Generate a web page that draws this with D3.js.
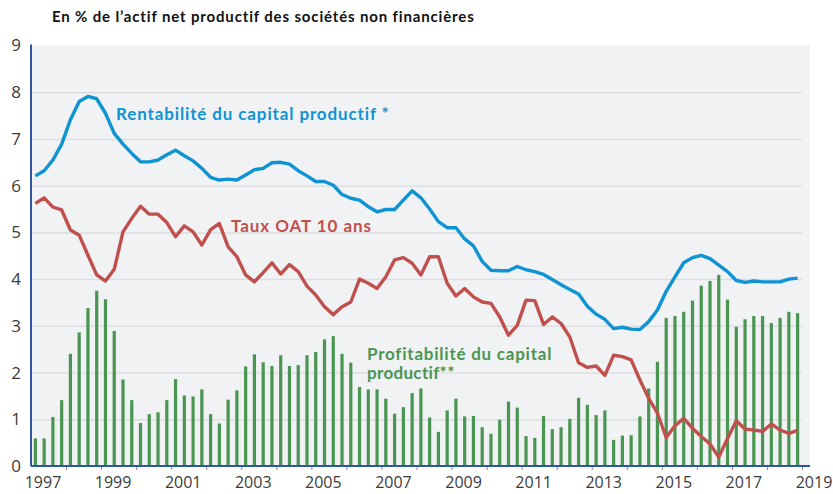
<!DOCTYPE html>
<html>
<head>
<meta charset="utf-8">
<script src="https://cdn.jsdelivr.net/npm/d3@7"></script>
<style>
  body { margin: 0; background: #fff; }
  svg { display: block; font-family: Lato, "Open Sans", sans-serif; }
</style>
</head>
<body>
<svg width="833" height="494"></svg>
<script>
(function () {
  'use strict';

  // ---- data (quarterly, 1997T1 -> 2018T4) ----
  const years = [1997, 1998, 1999, 2000, 2001, 2002, 2003, 2004, 2005, 2006, 2007,
                 2008, 2009, 2010, 2011, 2012, 2013, 2014, 2015, 2016, 2017, 2018];
  const quarters = ["T1", "T2", "T3", "T4"];

  const rentabilite = [
    6.21, 6.32, 6.55, 6.89, 7.41, 7.80, 7.91, 7.86,
    7.55, 7.12, 6.89, 6.69, 6.51, 6.51, 6.55, 6.66,
    6.76, 6.64, 6.53, 6.37, 6.18, 6.12, 6.14, 6.12,
    6.23, 6.34, 6.37, 6.49, 6.50, 6.46, 6.32, 6.21,
    6.09, 6.09, 6.01, 5.81, 5.73, 5.69, 5.55, 5.44,
    5.49, 5.49, 5.69, 5.89, 5.74, 5.50, 5.23, 5.10,
    5.10, 4.86, 4.71, 4.38, 4.19, 4.18, 4.18, 4.27,
    4.20, 4.16, 4.10, 3.99, 3.88, 3.78, 3.68, 3.42,
    3.25, 3.14, 2.94, 2.97, 2.93, 2.92, 3.09, 3.34,
    3.74, 4.05, 4.35, 4.46, 4.51, 4.44, 4.30, 4.16,
    3.97, 3.93, 3.96, 3.94, 3.94, 3.94, 4.00, 4.02
  ];

  const oat10 = [
    5.62, 5.74, 5.54, 5.48, 5.05, 4.94, 4.51, 4.09,
    3.96, 4.21, 5.01, 5.30, 5.56, 5.39, 5.39, 5.21,
    4.91, 5.14, 5.01, 4.73, 5.06, 5.19, 4.69, 4.48,
    4.09, 3.94, 4.14, 4.35, 4.11, 4.31, 4.16, 3.85,
    3.66, 3.41, 3.24, 3.41, 3.51, 4.00, 3.91, 3.80,
    4.05, 4.41, 4.46, 4.34, 4.09, 4.48, 4.48, 3.91,
    3.64, 3.80, 3.62, 3.51, 3.48, 3.19, 2.80, 3.01,
    3.55, 3.54, 3.03, 3.19, 3.05, 2.76, 2.21, 2.11,
    2.14, 1.94, 2.37, 2.34, 2.27, 1.84, 1.45, 1.13,
    0.61, 0.86, 1.02, 0.81, 0.63, 0.47, 0.19, 0.59,
    0.97, 0.79, 0.77, 0.74, 0.90, 0.77, 0.70, 0.76
  ];

  const profitabilite = [
    0.59, 0.59, 1.05, 1.41, 2.40, 2.86, 3.38, 3.75,
    3.57, 2.89, 1.85, 1.41, 0.92, 1.11, 1.15, 1.41,
    1.86, 1.51, 1.49, 1.64, 1.11, 0.91, 1.42, 1.62,
    2.13, 2.39, 2.22, 2.14, 2.37, 2.14, 2.16, 2.37,
    2.44, 2.71, 2.78, 2.40, 2.21, 1.69, 1.64, 1.64,
    1.44, 1.12, 1.26, 1.56, 1.66, 1.04, 0.73, 1.19,
    1.44, 1.06, 1.07, 0.83, 0.69, 0.99, 1.38, 1.25,
    0.64, 0.60, 1.07, 0.79, 0.83, 1.01, 1.46, 1.31,
    1.09, 1.19, 0.56, 0.65, 0.66, 1.06, 1.66, 2.23,
    3.17, 3.21, 3.30, 3.54, 3.86, 3.96, 4.09, 3.56,
    2.98, 3.14, 3.21, 3.21, 3.06, 3.17, 3.30, 3.27
  ];

  const yTicks = [0, 1, 2, 3, 4, 5, 6, 7, 8, 9];
  const xLabelYears = [1997, 1999, 2001, 2003, 2005, 2007, 2009, 2011, 2013, 2015, 2017, 2019];
  const xTickYears = d3.range(1998, 2020);

  const title = "En % de l\u2019actif net productif des sociétés non financières";

  // ---- layout ----
  const svg = d3.select("svg");
  const left = 31, right = 802, top = 45.5, bottom = 466;
  const panelRight = 810;

  const colBlue = "#0f93d2", colRed = "#c0504d", colGreen = "#4b9553";
  const colAxis = "#2e55a8";

  const data = years.flatMap((yr, yi) => quarters.map((q, qi) => {
    const i = yi * 4 + qi;
    return {t: yr + (qi + 0.5) / 4, label: yr + q,
            rent: rentabilite[i], oat: oat10[i], prof: profitabilite[i]};
  }));

  const x = d3.scaleLinear().domain([1997, 2019]).range([left, right]);
  const y = d3.scaleLinear().domain([0, 9]).range([bottom, top]);

  // panel background
  svg.append("rect")
    .attr("x", left).attr("y", top)
    .attr("width", panelRight - left).attr("height", bottom - top)
    .attr("fill", "#f0f2f4");

  // horizontal gridlines + y labels
  const yAxis = d3.axisLeft(y).tickValues(yTicks).tickSize(-(right - left)).tickFormat(d3.format("d"));
  const gy = svg.append("g")
    .attr("transform", `translate(${left},0)`)
    .call(yAxis);
  gy.select(".domain").remove();
  gy.selectAll(".tick line")
    .attr("stroke", "#dcdee1").attr("stroke-width", 1.5)
    .filter(d => d === 0 || d === 9).remove();
  gy.selectAll(".tick text")
    .attr("x", -10)
    .attr("fill", "#3b3b3b")
    .style("font-size", "17px")
    .style("font-family", "'Open Sans', sans-serif");

  // bars
  svg.append("g")
    .selectAll("rect")
    .data(data)
    .join("rect")
      .attr("x", d => x(d.t) - 1.6)
      .attr("y", d => y(d.prof))
      .attr("width", 3.2)
      .attr("height", d => y(0) - y(d.prof))
      .attr("fill", colGreen);

  // lines
  const lineOf = key => d3.line().x(d => x(d.t)).y(d => y(d[key]));
  svg.append("path")
    .datum(data)
    .attr("d", lineOf("oat"))
    .attr("fill", "none")
    .attr("stroke", colRed)
    .attr("stroke-width", 3.4)
    .attr("stroke-linejoin", "round");
  svg.append("path")
    .datum(data)
    .attr("d", lineOf("rent"))
    .attr("fill", "none")
    .attr("stroke", colBlue)
    .attr("stroke-width", 3.4)
    .attr("stroke-linejoin", "round");

  // x axis
  const xAxis = d3.axisBottom(x).tickValues(xTickYears).tickSize(4).tickFormat("");
  const gx = svg.append("g")
    .attr("transform", `translate(0,${bottom})`)
    .call(xAxis);
  gx.select(".domain").remove();
  gx.selectAll(".tick line").attr("stroke", "#8a8a8a").attr("stroke-width", 1);

  svg.append("g")
    .selectAll("text")
    .data(xLabelYears)
    .join("text")
      .attr("x", d => x(d) + 12)
      .attr("y", bottom + 22)
      .attr("text-anchor", "middle")
      .attr("fill", "#3b3b3b")
      .style("font-size", "16px")
      .style("font-family", "'Open Sans', sans-serif")
      .text(d => d);

  // axis lines
  svg.append("line")
    .attr("x1", left).attr("x2", panelRight)
    .attr("y1", bottom).attr("y2", bottom)
    .attr("stroke", colAxis).attr("stroke-width", 2);
  svg.append("line")
    .attr("x1", left).attr("x2", left)
    .attr("y1", top - 1).attr("y2", bottom)
    .attr("stroke", colAxis).attr("stroke-width", 2);

  // stretch letter spacing so a label spans the same width as in the original
  const fit = (sel, width) => {
    const w = sel.node().getComputedTextLength();
    const n = sel.text().length;
    sel.style("letter-spacing", ((width - w) / n) + "px");
    return sel;
  };

  // title
  fit(svg.append("text")
    .attr("x", 52).attr("y", 22)
    .attr("fill", "#111")
    .style("font-size", "15px")
    .style("font-weight", "bold")
    .text(title), 423);

  // series labels
  const lab = (txt, px, py, col, width) => fit(svg.append("text")
    .attr("x", px).attr("y", py)
    .attr("fill", col)
    .style("font-size", "17px")
    .style("font-weight", "bold")
    .text(txt), width);

  lab("Rentabilité du capital productif *", 116, 120, colBlue, 274);
  lab("Taux OAT 10 ans", 231, 232, colRed, 141);
  lab("Profitabilité du capital", 367, 360, colGreen, 185);
  lab("productif**", 367, 379, colGreen, 88);
}());
</script>
</body>
</html>
